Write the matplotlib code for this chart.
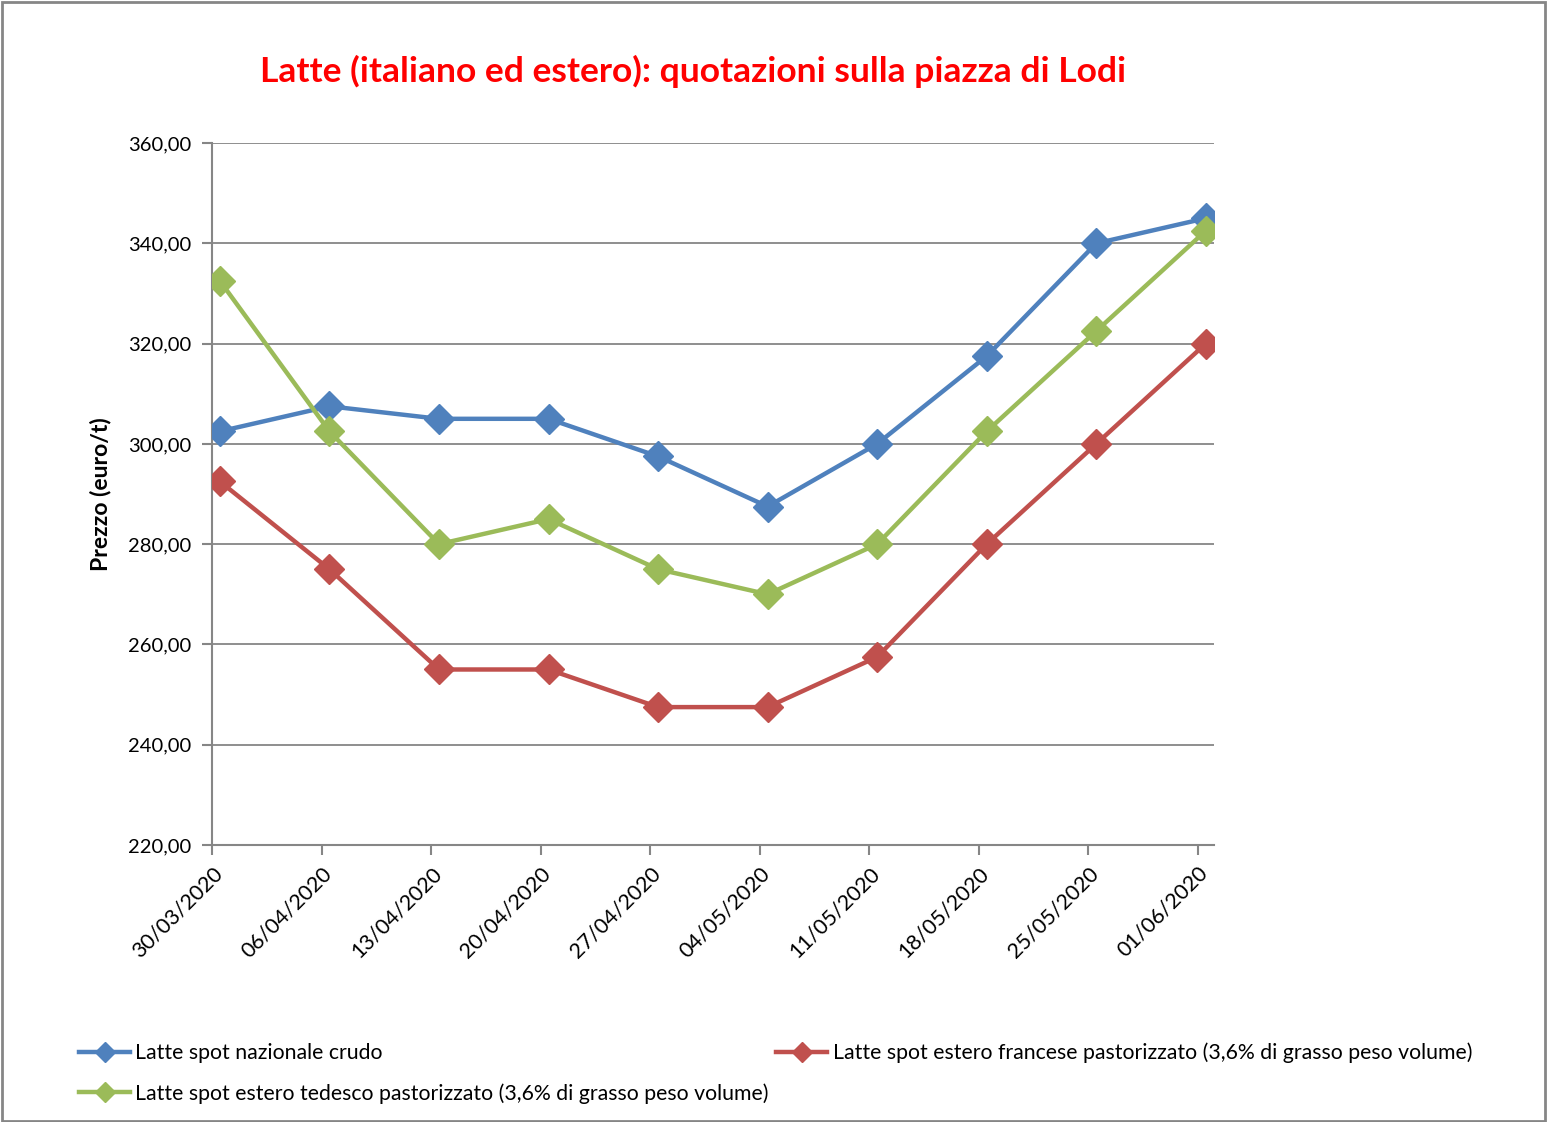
import matplotlib.pyplot as plt
from matplotlib.patches import Rectangle

plt.rcParams['font.family'] = ['Lato', 'DejaVu Sans']

# week starts (day offset from 30/03/2020)
dates = ['30/03/2020', '06/04/2020', '13/04/2020', '20/04/2020', '27/04/2020',
         '04/05/2020', '11/05/2020', '18/05/2020', '25/05/2020', '01/06/2020']
days = [0, 7, 14, 21, 28, 35, 42, 49, 56, 63]

nazionale = [302.5, 307.5, 305, 305, 297.5, 287.5, 300, 317.5, 340, 345]
francese = [292.5, 275, 255, 255, 247.5, 247.5, 257.5, 280, 300, 320]
tedesco = [332.5, 302.5, 280, 285, 275, 270, 280, 302.5, 322.5, 342.5]

lbl_naz = 'Latte spot nazionale crudo'
lbl_fra = 'Latte spot estero francese pastorizzato (3,6% di grasso peso volume)'
lbl_ted = 'Latte spot estero tedesco pastorizzato (3,6% di grasso peso volume)'

grey = '#868686'

fig = plt.figure(figsize=(15.48, 11.22), dpi=100)
ax = fig.add_axes([0.137, 0.2469, 0.647, 0.6256])

# Excel date axis: point sits in the middle of its day
xs = [d + 0.5 for d in days]
l1, = ax.plot(xs, nazionale, color='#4F81BD', lw=3.2, marker='D', ms=15, zorder=3)
l2, = ax.plot(xs, francese, color='#C0504D', lw=3.2, marker='D', ms=15, zorder=3)
l3, = ax.plot(xs, tedesco, color='#9BBB59', lw=3.2, marker='D', ms=15, zorder=3)

ax.set_xlim(0, 64)
ax.set_ylim(220, 360)
ax.set_yticks(range(220, 361, 20))
ax.set_yticklabels(['%d,00' % v for v in range(220, 361, 20)], fontsize=14.5)
ax.set_xticks(days)
ax.set_xticklabels(dates, fontsize=15.5, rotation=45, ha='right', rotation_mode='anchor')
ax.tick_params(axis='both', color=grey, width=1.5, length=7, direction='out')
ax.tick_params(axis='x', pad=6)
ax.tick_params(axis='y', pad=8)

ax.grid(axis='y', color=grey, lw=1.3)
ax.set_axisbelow(True)
for s in ['top', 'right']:
    ax.spines[s].set_visible(False)
for s in ['left', 'bottom']:
    ax.spines[s].set_color(grey)
    ax.spines[s].set_linewidth(1.5)

ax.set_ylabel('Prezzo (euro/t)', fontsize=16.5, fontweight='bold', labelpad=12)

fig.text(0.4477, 0.936, 'Latte (italiano ed estero): quotazioni sulla piazza di Lodi',
         color='#FF0000', fontsize=25.5, fontweight='bold', ha='center', va='center')

fig.legend([l1, l3, l2], [lbl_naz, lbl_ted, lbl_fra], ncol=2, frameon=False,
           loc='upper left', bbox_to_anchor=(0.0388, 0.088), fontsize=15.3,
           handlelength=2.4, handletextpad=0.25, columnspacing=0.35,
           labelspacing=0.95, markerscale=0.7)

fig.patches.append(Rectangle((0.001, 0.001), 0.997, 0.997, transform=fig.transFigure,
                             fill=False, edgecolor=grey, lw=2))

plt.savefig('out.png')
